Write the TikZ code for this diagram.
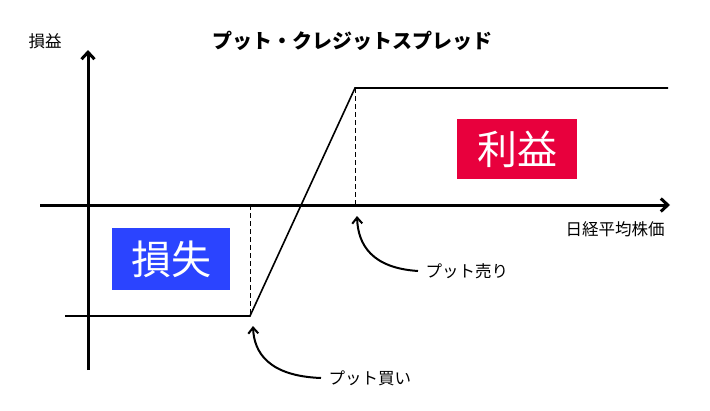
\documentclass[tikz,border=0pt]{standalone}
\usepackage{fontspec}
\setmainfont{Noto Sans CJK JP}
\usetikzlibrary{arrows.meta}
\definecolor{pred}{HTML}{E8003D}
\definecolor{pblue}{HTML}{2B44FF}
\begin{document}
\begin{tikzpicture}[x=1pt,y=-1pt,
  axis/.style={line width=3pt,-{Straight Barb[length=7pt,width=13pt]}},
  curv/.style={line width=2pt,-{Straight Barb[length=6pt,width=10pt]}},
  lbl/.style={font=\fontsize{16.5}{18}\selectfont},
  box/.style={text=white,font=\fontsize{40}{42}\selectfont,minimum width=120pt,minimum height=60pt,inner sep=0pt}]
\useasboundingbox (0,0) rectangle (710,410);
\coordinate (yb) at (88,370); \coordinate (yt) at (88,50);
\coordinate (xl) at (40,205); \coordinate (xr) at (670,205);
\draw[axis] (yb) -- (yt);
\draw[axis] (xl) -- (xr);
\coordinate (a) at (65,316); \coordinate (b) at (250,316);
\coordinate (c) at (355,88); \coordinate (d) at (668,88);
\coordinate (b0) at (250,205); \coordinate (c0) at (355,205);
\draw[line width=1.6pt] (a) -- (b) -- (c) -- (d);
\draw[dash pattern=on 5pt off 3pt,line width=1pt] (b0) -- (b);
\draw[dash pattern=on 5pt off 3pt,line width=1pt] (c) -- (c0);
\node[lbl] (yl) at (45,41) {損益};
\node[font=\bfseries\fontsize{20}{22}\selectfont] (title) at (352,41) {プット・クレジットスプレッド};
\node[lbl] (xlab) at (615,229) {日経平均株価};
\node[box,fill=pred] (profit) at (517,149) {利益};
\node[box,fill=pblue,minimum width=118pt,minimum height=62pt] (loss) at (171,259) {損失};
\node[lbl,anchor=west] (sell) at (422,271) {プット売り};
\node[lbl,anchor=west] (buy) at (325,378) {プット買い};
\draw[curv] (sell.west) ++(-4,0) .. controls (372,268) and (358,245) .. (357,216);
\draw[curv] (buy.west) ++(-4,0) .. controls (268,376) and (254,352) .. (253,326);
\end{tikzpicture}
\end{document}
